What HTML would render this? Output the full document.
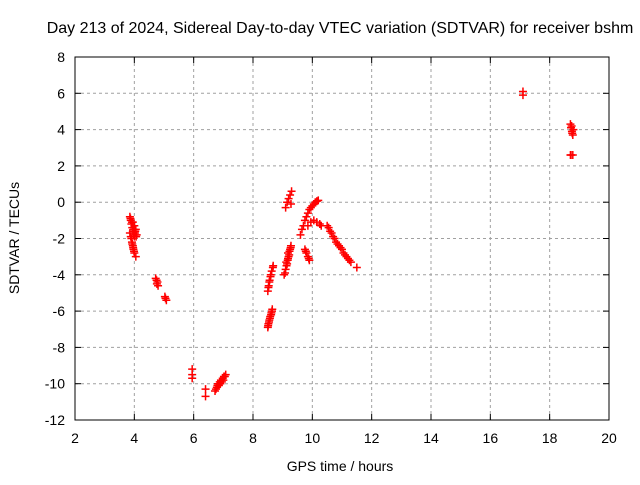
<!DOCTYPE html>
<html><head><meta charset="utf-8"><style>
body{margin:0;background:#fff;font-family:"Liberation Sans",sans-serif;}
svg text{font-family:"Liberation Sans",sans-serif;font-size:14px;fill:#000;}
</style></head><body>
<svg id="chart" width="640" height="480">
<text x="340" y="33" text-anchor="middle" style="font-size:16px">Day 213 of 2024, Sidereal Day-to-day VTEC variation (SDTVAR) for receiver bshm</text>
<text x="340" y="471" text-anchor="middle">GPS time / hours</text>
<text x="0" y="0" text-anchor="middle" transform="translate(19,238) rotate(-90)">SDTVAR / TECUs</text>
<g id="grid"></g><g id="ticks"></g><g id="pts"></g>
<rect x="75" y="57" width="534" height="363" fill="none" stroke="#000" stroke-width="1"/>
</svg>
<script>
const xTicks=[2,4,6,8,10,12,14,16,18,20];
const yTicks=[8,6,4,2,0,-2,-4,-6,-8,-10,-12];
const hours=[3.85,3.88,3.9,3.93,3.95,3.97,4.0,4.02,4.05,4.0,3.95,4.08,3.9,3.92,3.95,3.97,4.0,4.05,3.85,3.88,3.87,3.92,3.98,4.03,4.06,3.93,3.96,3.99,
4.72,4.75,4.78,4.76,4.8,5.03,5.05,5.08,5.95,5.95,5.95,6.4,6.4,
6.72,6.78,6.82,6.88,6.92,6.98,7.02,7.08,6.85,6.95,6.75,6.8,6.9,7.0,7.05,
8.5,8.52,8.55,8.58,8.62,8.65,8.5,8.53,8.56,8.6,8.63,8.67,8.68,8.51,8.54,8.57,8.61,8.64,8.52,8.55,8.59,
9.05,9.1,9.15,9.2,9.25,9.12,9.18,9.28,9.1,9.15,9.2,9.25,9.3,9.08,9.13,9.17,9.22,9.27,9.18,9.23,9.28,
9.6,9.65,9.7,9.75,9.8,9.85,9.9,9.95,10.0,10.05,10.1,10.15,10.2,9.85,9.95,10.05,10.15,10.25,10.3,9.75,9.8,9.85,9.9,9.78,9.88,
10.5,10.55,10.6,10.65,10.7,10.75,10.8,10.85,10.9,10.95,11.0,11.05,11.1,11.15,11.2,11.25,11.3,11.5,17.1,17.1,18.7,18.72,18.75,18.78,18.8,18.72,18.78,18.74,18.76,18.7];
const values=[-0.8,-1.0,-1.2,-1.4,-1.6,-1.8,-1.9,-1.7,-1.5,-1.3,-1.1,-1.8,-2.0,-2.2,-2.4,-2.6,-2.8,-3.0,-1.7,-1.9,-0.9,-1.1,-1.5,-1.6,-1.9,-2.3,-2.5,-2.7,
-4.2,-4.3,-4.4,-4.5,-4.6,-5.2,-5.3,-5.4,-9.2,-9.5,-9.7,-10.3,-10.7,
-10.4,-10.2,-10.0,-9.9,-9.8,-9.7,-9.6,-9.5,-10.1,-9.9,-10.3,-10.1,-10.0,-9.8,-9.6,
-6.9,-6.7,-6.5,-6.3,-6.1,-5.9,-4.9,-4.6,-4.3,-4.0,-3.8,-3.6,-3.5,-6.8,-6.6,-6.4,-6.2,-6.0,-4.7,-4.4,-4.1,
-4.0,-3.7,-3.4,-3.0,-2.6,-3.3,-2.8,-2.4,-0.3,0.0,0.2,0.4,0.6,-3.9,-3.5,-3.2,-2.9,-2.5,-3.1,-2.7,-0.1,
-1.8,-1.5,-1.3,-1.0,-0.8,-0.6,-0.4,-0.3,-0.2,-0.1,0.0,0.05,0.1,-1.3,-1.1,-1.0,-1.1,-1.2,-1.3,-2.6,-2.8,-3.0,-3.2,-2.7,-3.1,
-1.3,-1.4,-1.6,-1.7,-1.9,-2.0,-2.2,-2.3,-2.4,-2.5,-2.6,-2.8,-2.9,-3.0,-3.1,-3.2,-3.3,-3.6,6.1,5.9,4.3,4.1,3.9,3.7,4.0,2.6,2.6,4.2,3.8,2.6];
const X0=75,X1=609,Y0=420,Y1=57;
const sx=h=>X0+(h-2)/18*(X1-X0);
const sy=v=>Y0-(v+12)/20*(Y0-Y1);
const NS="http://www.w3.org/2000/svg";
const grid=document.getElementById('grid'),ticks=document.getElementById('ticks'),pts=document.getElementById('pts');
function mk(tag,attrs,parent){const e=document.createElementNS(NS,tag);for(const k in attrs)e.setAttribute(k,attrs[k]);parent.appendChild(e);return e;}
xTicks.forEach(t=>{const x=sx(t);
 if(t>2&&t<20){const l=mk('line',{x1:x,x2:x,y1:Y1,y2:Y0,stroke:'#a0a0a0','stroke-dasharray':'3,3'},grid);
 
 }
 const tx=mk('text',{x:x,y:Y0+23,'text-anchor':'middle'},ticks);tx.textContent=t;
 
 
 mk('line',{x1:x,x2:x,y1:Y0,y2:Y0-6,stroke:'#000'},ticks);mk('line',{x1:x,x2:x,y1:Y1,y2:Y1+6,stroke:'#000'},ticks);});
yTicks.forEach(t=>{const y=sy(t);
 if(t>-12&&t<8){const l=mk('line',{x1:X0,x2:X1,y1:y,y2:y,stroke:'#a0a0a0','stroke-dasharray':'3,3'},grid);
 
 }
 const tx=mk('text',{x:X0-10,y:y+5,'text-anchor':'end'},ticks);tx.textContent=t;
 
 
 mk('line',{x1:X0,x2:X0+6,y1:y,y2:y,stroke:'#000'},ticks);mk('line',{x1:X1,x2:X1-6,y1:y,y2:y,stroke:'#000'},ticks);});
hours.forEach((h,i)=>{const x=sx(h),y=sy(values[i]);
 const p=mk('path',{d:`M${x-4},${y}H${x+4}M${x},${y-4}V${y+4}`,stroke:'#f00','stroke-width':1.5},pts);
 
 });
</script>
</body></html>
